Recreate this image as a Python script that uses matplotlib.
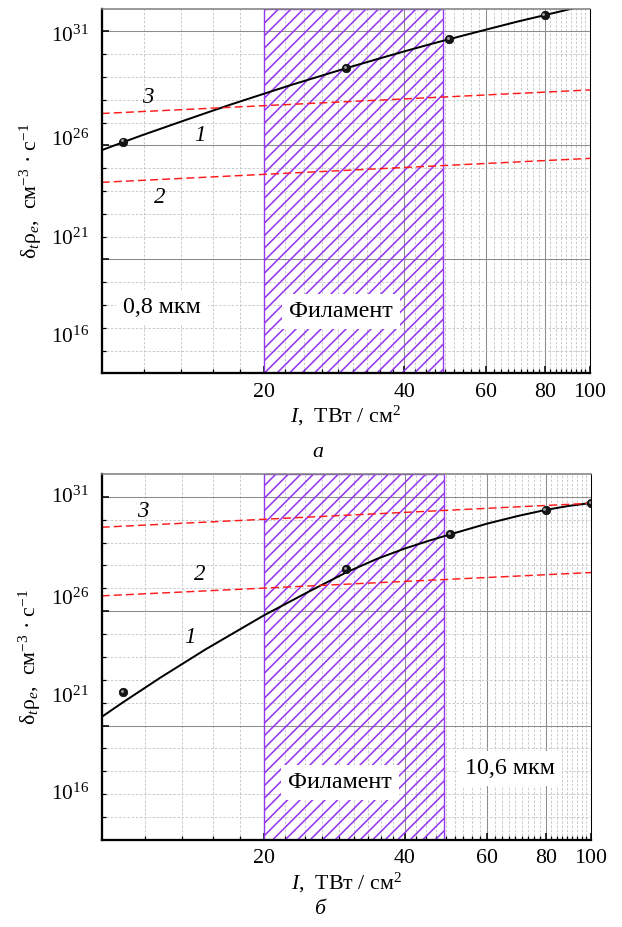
import matplotlib
matplotlib.use("Agg")
import matplotlib.pyplot as plt
from matplotlib.patches import Rectangle
from matplotlib.ticker import FixedLocator, NullFormatter
from matplotlib.transforms import ScaledTranslation, blended_transform_factory

plt.rcParams.update({
    "font.family": ["Liberation Serif", "DejaVu Serif"],
    "mathtext.fontset": "custom",
    "mathtext.rm": "Liberation Serif",
    "mathtext.it": "Liberation Serif:italic",
    "mathtext.bf": "Liberation Serif:bold",
    "hatch.linewidth": 1.5,
    "hatch.color": "#9536f0",
})

# ---- data (I in TW/cm^2, rate in cm^-3 s^-1) -------------------------------
X_TICKS = [20, 40, 60, 80, 100]
X_TICK_LABELS = ["20", "40", "60", "80", "100"]
Y_TICK_LABELS = [r"$10^{31}$", r"$10^{26}$", r"$10^{21}$", r"$10^{16}$"]
FILAMENT = [20, 48.5]

# panel a: 0.8 um
pts_I_a = [10, 30, 50, 80]
pts_v_a = [1.45e26, 2.4e29, 4.6e30, 5.0e31]
c1_I_a = [9, 10, 11, 12, 13, 15, 17, 20, 23, 30, 35, 40, 45, 50, 60, 70,
          80, 90, 100]
c1_v_a = [6.17e25, 1.38e26, 2.82e26, 5.25e26, 9.33e26, 2.57e27, 6.17e27,
          1.82e28, 4.57e28, 2.40e29, 6.03e29, 1.32e30, 2.57e30, 4.57e30,
          1.20e31, 2.69e31, 5.13e31, 9.12e31, 1.48e32]
c2_I_a = [9, 100]
c2_v_a = [2.4e24, 2.7e25]
c3_I_a = [9, 100]
c3_v_a = [2.5e27, 2.7e28]

# panel b: 10.6 um
pts_I_b = [10, 30, 50, 80, 100]
pts_v_b = [2.95e22, 6.9e27, 2.4e29, 2.7e30, 5.25e30]
c1_I_b = [9, 10, 12, 15, 20, 25, 30, 35, 40, 45, 50, 60, 70, 80, 90, 100]
c1_v_b = [2.40e21, 1.05e22, 1.23e23, 2.14e24, 6.61e25, 7.41e26, 5.01e27,
          2.00e28, 5.50e28, 1.20e29, 2.29e29, 6.76e29, 1.48e30, 2.69e30,
          4.07e30, 5.37e30]
c2_I_b = [9, 100]
c2_v_b = [4.7e26, 4.9e27]
c3_I_b = [9, 100]
c3_v_b = [4.7e29, 5.25e30]

# ---- figure -----------------------------------------------------------------
DPI = 75
fig = plt.figure(figsize=(622 / DPI, 927 / DPI), dpi=DPI)
ax_a = fig.add_axes([0.1635, 0.5971, 0.7851, 0.3937])
ax_b = fig.add_axes([0.1635, 0.0939, 0.7867, 0.3948])

C_HATCH = "#9536f0"


def setup(ax, label_y):
    ax.set_xscale("log")
    ax.set_yscale("log")
    ax.set_xlim(9, 100)
    ax.set_ylim(1e16, 1e32)
    ax.set_axisbelow(True)
    ax.set_xticks(X_TICKS)
    ax.set_xticklabels(X_TICK_LABELS)
    ax.xaxis.set_minor_locator(FixedLocator(
        [k * 20 / 9 for k in range(5, 46) if k % 9]))
    ax.xaxis.set_minor_formatter(NullFormatter())
    ax.set_yticks([1e21, 1e26, 1e31])
    ax.set_yticklabels([])
    ax.yaxis.set_minor_locator(FixedLocator(
        [10.0 ** k for k in range(17, 32) if k % 5 != 1]))
    ax.yaxis.set_minor_formatter(NullFormatter())
    ax.tick_params(which="both", direction="in", top=False, right=False)
    ax.tick_params(which="major", length=7, width=1.5)
    ax.tick_params(which="minor", length=4, width=1.2)
    ax.tick_params(axis="x", labelsize=21, pad=9)
    ax.grid(which="minor", color="#c2c2c2", lw=0.8, ls=(0, (3, 2)))
    ax.grid(which="major", color="#8c8c8c", lw=1.0)
    for s in ("left", "bottom"):
        ax.spines[s].set_linewidth(2.2)
    ax.spines["right"].set_linewidth(1.0)
    ax.spines["top"].set_linewidth(1.5)
    ax.spines["top"].set_color("#808080")
    for sp in ax.spines.values():
        sp.set_zorder(6)

    # tick labels as drawn in the original (offset from the tick marks)
    tr = blended_transform_factory(ax.transAxes, ax.transData)
    for lab, e in zip(Y_TICK_LABELS, label_y):
        ax.text(-0.026, 10.0 ** e, lab, transform=tr, ha="right",
                va="center", fontsize=20.5)

    ax.add_patch(Rectangle((FILAMENT[0], 1e16), FILAMENT[1] - FILAMENT[0],
                           1e32, facecolor="none", edgecolor=C_HATCH,
                           hatch="//", lw=1.3, zorder=1))

    ax.set_ylabel(r"δ$_t$ρ$_e$,  см$^{-3}$ · с$^{-1}$", fontsize=21)
    ax.yaxis.set_label_coords(-0.119, 0.5)
    ax.set_xlabel(r"$I$,  ТВт / см$^2$", fontsize=21, labelpad=2)


def curves(ax, c1, c2, c3, pts):
    ax.plot(c1[0], c1[1], color="black", lw=1.9, zorder=3)
    for c in (c2, c3):
        ax.plot(c[0], c[1], color="#ff1a1a", lw=1.4, ls=(0, (5.5, 2.8)),
                zorder=3)
    ax.plot(pts[0], pts[1], "o", ms=8.2, color="#151515", mec="black",
            mew=0.6, zorder=4)
    hl = ax.transData + ScaledTranslation(-1.3 / DPI, 1.3 / DPI,
                                          fig.dpi_scale_trans)
    ax.plot(pts[0], pts[1], "o", ms=2.8, color="#a0a0a0", mew=0,
            transform=hl, zorder=5)


def box_text(ax, x, y, s):
    ax.text(x, y, s, ha="center", va="center", fontsize=23, zorder=7,
            bbox=dict(boxstyle="square,pad=0.3", fc="white", ec="none"))


def num(ax, x, y, s):
    ax.text(x, y, s, ha="center", va="center", fontsize=22,
            style="italic", zorder=7)


# panel a
setup(ax_a, [30.80, 26.24, 21.89, 17.60])
curves(ax_a, (c1_I_a, c1_v_a), (c2_I_a, c2_v_a), (c3_I_a, c3_v_a),
       (pts_I_a, pts_v_a))
box_text(ax_a, 12.1, 10 ** 18.9, "0,8 мкм")
box_text(ax_a, 29.3, 10 ** 18.73, "Филамент")
num(ax_a, 11.3, 10 ** 28.12, "3")
num(ax_a, 14.6, 10 ** 26.45, "1")
num(ax_a, 12.0, 10 ** 23.73, "2")

# panel b
setup(ax_b, [30.99, 26.54, 22.22, 17.98])
curves(ax_b, (c1_I_b, c1_v_b), (c2_I_b, c2_v_b), (c3_I_b, c3_v_b),
       (pts_I_b, pts_v_b))
box_text(ax_b, 29.1, 10 ** 18.5, "Филамент")
box_text(ax_b, 67.2, 10 ** 19.12, "10,6 мкм")
num(ax_b, 11.0, 10 ** 30.34, "3")
num(ax_b, 14.6, 10 ** 27.59, "2")
num(ax_b, 13.9, 10 ** 24.84, "1")

fig.text(318 / 622, 1 - 452 / 927, "а", ha="center", va="center",
         fontsize=21, style="italic")
fig.text(320 / 622, 1 - 910 / 927, "б", ha="center", va="center",
         fontsize=21, style="italic")

fig.savefig("out.png", dpi=DPI)
